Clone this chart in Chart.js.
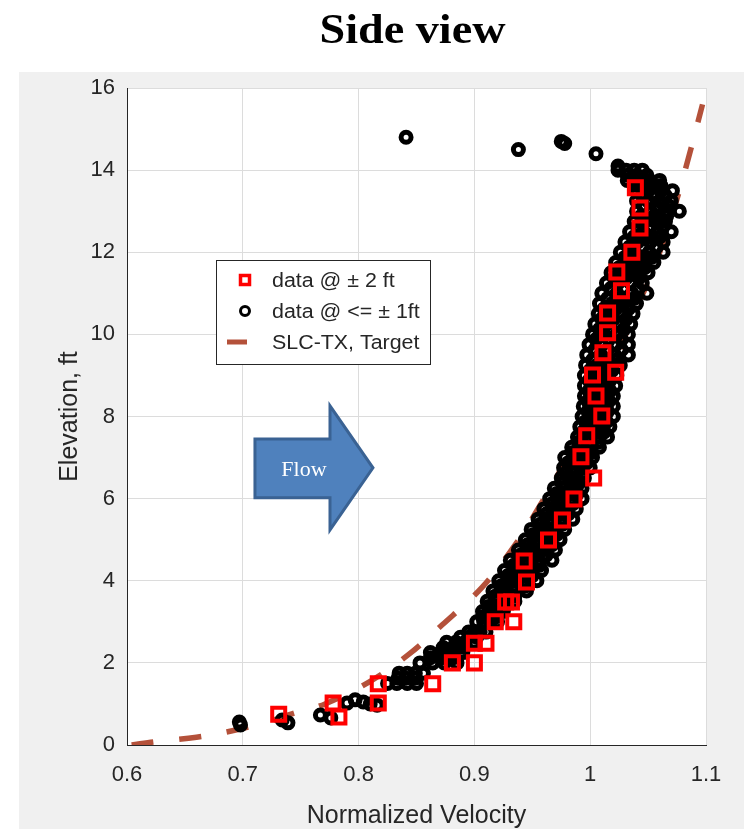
<!DOCTYPE html>
<html>
<head>
<meta charset="utf-8">
<script src="https://cdn.jsdelivr.net/npm/chart.js@4.4.1/dist/chart.umd.min.js"></script>
<style>
    html, body { margin: 0; padding: 0; background: #fff; }
    #wrap { position: relative; width: 744px; height: 829px; }
</style>
</head>
<body>
<div id="wrap"><canvas id="chart-side"></canvas></div>
<script>
// Side view — normalized velocity profile vs elevation

const xTicks = [0.6, 0.7, 0.8, 0.9, 1.0, 1.1];
const xTickLabels = ['0.6', '0.7', '0.8', '0.9', '1', '1.1'];
const yTicks = [0, 2, 4, 6, 8, 10, 12, 14, 16];

// data @ ± 2 ft  (x = normalized velocity, y = elevation ft)
const squarePts = [
    [1.039, 13.57], [1.043, 13.08], [1.043, 12.59], [1.036, 12.0], [1.023, 11.52],
    [1.027, 11.06], [1.015, 10.52], [1.015, 10.04], [1.011, 9.55], [1.002, 9.01],
    [1.022, 9.08], [1.005, 8.5], [1.010, 8.01], [0.997, 7.53], [0.992, 7.02],
    [1.003, 6.5], [0.986, 5.99], [0.976, 5.48], [0.964, 4.99], [0.943, 4.48],
    [0.945, 3.97], [0.927, 3.48], [0.932, 3.48], [0.918, 3.0], [0.934, 3.0],
    [0.900, 2.48], [0.910, 2.48], [0.881, 2.0], [0.900, 2.0], [0.864, 1.49],
    [0.817, 1.49], [0.817, 1.02], [0.778, 1.02], [0.783, 0.68], [0.731, 0.75]
];

// data @ <= ± 1 ft
const circlePts = [
    [0.841, 14.8], [0.938, 14.5], [0.975, 14.7], [0.978, 14.65], [1.005, 14.4], [1.024, 14.1],
    [1.024, 14.0], [1.031, 14.0], [1.038, 14.0], [1.045, 14.0],
    [1.032, 13.875], [1.040, 13.875], [1.049, 13.875],
    [1.032, 13.75], [1.041, 13.75], [1.051, 13.75], [1.060, 13.75],
    [1.041, 13.625], [1.051, 13.625], [1.061, 13.625],
    [1.040, 13.5], [1.050, 13.5], [1.061, 13.5], [1.071, 13.5],
    [1.045, 13.375], [1.055, 13.375], [1.065, 13.375],
    [1.040, 13.25], [1.050, 13.25], [1.060, 13.25], [1.070, 13.25],
    [1.046, 13.125], [1.057, 13.125], [1.068, 13.125],
    [1.040, 13.0], [1.052, 13.0], [1.065, 13.0], [1.077, 13.0],
    [1.044, 12.875], [1.055, 12.875], [1.066, 12.875],
    [1.038, 12.75], [1.047, 12.75], [1.056, 12.75], [1.065, 12.75],
    [1.041, 12.625], [1.052, 12.625], [1.063, 12.625],
    [1.034, 12.5], [1.046, 12.5], [1.058, 12.5], [1.070, 12.5],
    [1.038, 12.375], [1.049, 12.375], [1.060, 12.375],
    [1.030, 12.25], [1.041, 12.25], [1.052, 12.25], [1.063, 12.25],
    [1.034, 12.125], [1.045, 12.125], [1.057, 12.125],
    [1.026, 12.0], [1.038, 12.0], [1.051, 12.0], [1.063, 12.0],
    [1.030, 11.875], [1.041, 11.875], [1.053, 11.875],
    [1.022, 11.75], [1.033, 11.75], [1.044, 11.75], [1.055, 11.75],
    [1.025, 11.625], [1.036, 11.625], [1.047, 11.625],
    [1.018, 11.5], [1.029, 11.5], [1.039, 11.5], [1.050, 11.5],
    [1.021, 11.375], [1.031, 11.375], [1.042, 11.375],
    [1.014, 11.25], [1.024, 11.25], [1.035, 11.25], [1.045, 11.25],
    [1.018, 11.125], [1.029, 11.125], [1.041, 11.125],
    [1.010, 11.0], [1.023, 11.0], [1.036, 11.0], [1.049, 11.0],
    [1.015, 10.875], [1.026, 10.875], [1.038, 10.875],
    [1.008, 10.75], [1.019, 10.75], [1.029, 10.75], [1.040, 10.75],
    [1.012, 10.625], [1.022, 10.625], [1.033, 10.625],
    [1.007, 10.5], [1.017, 10.5], [1.027, 10.5], [1.037, 10.5],
    [1.010, 10.375], [1.020, 10.375], [1.031, 10.375],
    [1.004, 10.25], [1.014, 10.25], [1.025, 10.25], [1.035, 10.25],
    [1.008, 10.125], [1.018, 10.125], [1.029, 10.125],
    [1.002, 10.0], [1.012, 10.0], [1.023, 10.0], [1.033, 10.0],
    [1.005, 9.875], [1.016, 9.875], [1.027, 9.875],
    [0.999, 9.75], [1.010, 9.75], [1.022, 9.75], [1.033, 9.75],
    [1.004, 9.625], [1.015, 9.625], [1.027, 9.625],
    [0.997, 9.5], [1.009, 9.5], [1.021, 9.5], [1.033, 9.5],
    [1.002, 9.375], [1.012, 9.375], [1.023, 9.375],
    [0.996, 9.25], [1.006, 9.25], [1.016, 9.25], [1.026, 9.25],
    [1.000, 9.125], [1.009, 9.125], [1.019, 9.125],
    [0.995, 9.0], [1.004, 9.0], [1.014, 9.0], [1.023, 9.0],
    [0.999, 8.875], [1.008, 8.875], [1.017, 8.875],
    [0.995, 8.75], [1.004, 8.75], [1.013, 8.75], [1.022, 8.75],
    [0.999, 8.625], [1.008, 8.625], [1.017, 8.625],
    [0.995, 8.5], [1.003, 8.5], [1.012, 8.5], [1.020, 8.5],
    [0.998, 8.375], [1.007, 8.375], [1.016, 8.375],
    [0.994, 8.25], [1.003, 8.25], [1.011, 8.25], [1.020, 8.25],
    [0.998, 8.125], [1.006, 8.125], [1.015, 8.125],
    [0.993, 8.0], [1.002, 8.0], [1.011, 8.0], [1.020, 8.0],
    [0.996, 7.875], [1.005, 7.875], [1.014, 7.875],
    [0.991, 7.75], [1.000, 7.75], [1.008, 7.75], [1.017, 7.75],
    [0.994, 7.625], [1.003, 7.625], [1.012, 7.625],
    [0.989, 7.5], [0.998, 7.5], [1.006, 7.5], [1.015, 7.5],
    [0.990, 7.375], [0.999, 7.375], [1.007, 7.375],
    [0.984, 7.25], [0.992, 7.25], [1.000, 7.25], [1.008, 7.25],
    [0.985, 7.125], [0.993, 7.125], [1.001, 7.125],
    [0.978, 7.0], [0.986, 7.0], [0.994, 7.0], [1.002, 7.0],
    [0.981, 6.875], [0.989, 6.875], [0.997, 6.875],
    [0.977, 6.75], [0.985, 6.75], [0.992, 6.75], [1.000, 6.75],
    [0.979, 6.625], [0.986, 6.625], [0.994, 6.625],
    [0.975, 6.5], [0.982, 6.5], [0.988, 6.5], [0.995, 6.5],
    [0.976, 6.375], [0.983, 6.375], [0.990, 6.375],
    [0.969, 6.25], [0.977, 6.25], [0.985, 6.25], [0.993, 6.25],
    [0.971, 6.125], [0.980, 6.125], [0.989, 6.125],
    [0.965, 6.0], [0.974, 6.0], [0.984, 6.0], [0.993, 6.0],
    [0.967, 5.875], [0.976, 5.875], [0.985, 5.875],
    [0.960, 5.75], [0.969, 5.75], [0.979, 5.75], [0.988, 5.75],
    [0.962, 5.625], [0.972, 5.625], [0.981, 5.625],
    [0.955, 5.5], [0.965, 5.5], [0.975, 5.5], [0.985, 5.5],
    [0.957, 5.375], [0.966, 5.375], [0.976, 5.375],
    [0.949, 5.25], [0.959, 5.25], [0.968, 5.25], [0.978, 5.25],
    [0.951, 5.125], [0.961, 5.125], [0.971, 5.125],
    [0.944, 5.0], [0.954, 5.0], [0.964, 5.0], [0.974, 5.0],
    [0.946, 4.875], [0.956, 4.875], [0.967, 4.875],
    [0.938, 4.75], [0.949, 4.75], [0.959, 4.75], [0.970, 4.75],
    [0.940, 4.625], [0.951, 4.625], [0.962, 4.625],
    [0.931, 4.5], [0.943, 4.5], [0.955, 4.5], [0.967, 4.5],
    [0.934, 4.375], [0.945, 4.375], [0.956, 4.375],
    [0.926, 4.25], [0.937, 4.25], [0.947, 4.25], [0.958, 4.25],
    [0.929, 4.125], [0.939, 4.125], [0.950, 4.125],
    [0.921, 4.0], [0.932, 4.0], [0.943, 4.0], [0.954, 4.0],
    [0.923, 3.875], [0.934, 3.875], [0.944, 3.875],
    [0.916, 3.75], [0.926, 3.75], [0.935, 3.75], [0.945, 3.75],
    [0.918, 3.625], [0.926, 3.625], [0.935, 3.625],
    [0.911, 3.5], [0.919, 3.5], [0.927, 3.5], [0.935, 3.5],
    [0.912, 3.375], [0.919, 3.375], [0.926, 3.375],
    [0.907, 3.25], [0.913, 3.25], [0.919, 3.25], [0.925, 3.25],
    [0.907, 3.125], [0.913, 3.125], [0.919, 3.125],
    [0.902, 3.0], [0.908, 3.0], [0.914, 3.0], [0.920, 3.0],
    [0.895, 2.75], [0.900, 2.75], [0.905, 2.75], [0.910, 2.75],
    [0.888, 2.625], [0.895, 2.625], [0.902, 2.625],
    [0.876, 2.5], [0.884, 2.5], [0.892, 2.5], [0.900, 2.5],
    [0.873, 2.375], [0.882, 2.375], [0.891, 2.375],
    [0.862, 2.25], [0.871, 2.25], [0.881, 2.25], [0.890, 2.25],
    [0.862, 2.125], [0.872, 2.125], [0.882, 2.125],
    [0.853, 2.0], [0.864, 2.0], [0.874, 2.0], [0.885, 2.0],
    [0.835, 1.75], [0.842, 1.75], [0.849, 1.75], [0.856, 1.75],
    [0.834, 1.625], [0.841, 1.625], [0.849, 1.625],
    [0.825, 1.5], [0.833, 1.5], [0.842, 1.5], [0.850, 1.5],
    [0.790, 1.02], [0.797, 1.1], [0.804, 1.05], [0.810, 1.0], [0.816, 0.97],
    [0.767, 0.73], [0.776, 0.66],
    [0.734, 0.61], [0.739, 0.54], [0.698, 0.49], [0.697, 0.56]
];

// SLC-TX, Target curve
const targetPts = [
    [0.604, 0], [0.625, 0.08], [0.660, 0.19], [0.690, 0.34], [0.720, 0.55],
    [0.745, 0.78], [0.771, 1.0], [0.810, 1.55], [0.843, 2.2], [0.872, 2.92],
    [0.907, 3.85], [0.935, 4.87], [0.957, 5.85], [0.979, 6.94], [1.000, 8.1],
    [1.021, 9.25], [1.036, 10.4], [1.052, 11.4], [1.068, 12.66], [1.082, 14.0],
    [1.097, 15.6]
];

const legendLabels = ['data @ \u00b1 2 ft', 'data @ <= \u00b1 1ft', 'SLC-TX, Target'];

const RED = '#ff0000';
const BLACK = '#000000';
const BROWN = '#b4513a';
const AXIS = '#262626';
const GRID = '#dcdcdc';
const SANS = '"Liberation Sans", Arial, sans-serif';

const toXY = arr => arr.map(p => ({ x: p[0], y: p[1] }));

// gray figure panel, white axes box, title
const paperPlugin = {
    id: 'paper',
    beforeDraw(chart) {
        const { ctx, chartArea: a } = chart;
        ctx.save();
        ctx.fillStyle = '#ffffff';
        ctx.fillRect(0, 0, chart.width, chart.height);
        ctx.fillStyle = '#f0f0f0';
        ctx.fillRect(19, 72, chart.width - 19, chart.height - 72);
        ctx.fillStyle = '#ffffff';
        ctx.fillRect(a.left, a.top, a.right - a.left, a.bottom - a.top);
        ctx.fillStyle = '#000';
        ctx.font = 'bold 42px "Liberation Serif", serif';
        ctx.textAlign = 'center';
        ctx.textBaseline = 'alphabetic';
        ctx.translate((a.left + a.right) / 2 - 4, 43);
        ctx.scale(1.1, 1);
        ctx.fillText('Side view', 0, 0);
        ctx.restore();
    }
};

// "Flow" block arrow, placed in data units
const flowPlugin = {
    id: 'flow',
    afterDatasetsDraw(chart) {
        const { ctx, scales: { x, y } } = chart;
        const px = v => x.getPixelForValue(v);
        const py = v => y.getPixelForValue(v);
        const x0 = px(0.7105), x1 = px(0.7753), x2 = px(0.8124);
        const yTop = py(8.26), yBodyTop = py(7.45), yMid = py(6.75), yBodyBot = py(6.02), yBot = py(5.24);
        ctx.save();
        ctx.beginPath();
        ctx.moveTo(x0, yBodyTop);
        ctx.lineTo(x1, yBodyTop);
        ctx.lineTo(x1, yTop);
        ctx.lineTo(x2, yMid);
        ctx.lineTo(x1, yBot);
        ctx.lineTo(x1, yBodyBot);
        ctx.lineTo(x0, yBodyBot);
        ctx.closePath();
        ctx.fillStyle = '#4f81bd';
        ctx.fill();
        ctx.lineWidth = 3;
        ctx.lineJoin = 'miter';
        ctx.strokeStyle = '#3a6293';
        ctx.stroke();
        ctx.fillStyle = '#ffffff';
        ctx.font = '22px "Liberation Serif", serif';
        ctx.textAlign = 'center';
        ctx.textBaseline = 'middle';
        ctx.fillText('Flow', x0 + 49, yMid + 2);
        ctx.restore();
    }
};

// boxed legend inside the axes
const boxLegendPlugin = {
    id: 'boxLegend',
    afterDraw(chart) {
        const { ctx, chartArea: a } = chart;
        const bx = a.left + 89, by = a.top + 172, bw = 214, bh = 104;
        ctx.save();
        ctx.fillStyle = '#ffffff';
        ctx.fillRect(bx, by, bw, bh);
        ctx.strokeStyle = AXIS;
        ctx.lineWidth = 1;
        ctx.strokeRect(bx + 0.5, by + 0.5, bw, bh);

        const ix = bx + 29;
        const rows = [by + 20, by + 51, by + 82];

        ctx.strokeStyle = RED;
        ctx.lineWidth = 3.5;
        ctx.strokeRect(ix - 4.5, rows[0] - 4.5, 9, 9);

        ctx.strokeStyle = BLACK;
        ctx.lineWidth = 3;
        ctx.beginPath();
        ctx.arc(ix, rows[1], 4.5, 0, Math.PI * 2);
        ctx.stroke();

        ctx.strokeStyle = BROWN;
        ctx.lineWidth = 5;
        ctx.beginPath();
        ctx.moveTo(ix - 18, rows[2]);
        ctx.lineTo(ix + 2, rows[2]);
        ctx.stroke();

        ctx.fillStyle = AXIS;
        ctx.font = '20px ' + SANS;
        ctx.textAlign = 'left';
        ctx.textBaseline = 'middle';
        legendLabels.forEach((t, i) => {
            ctx.save();
            ctx.translate(bx + 56, rows[i] + 1);
            ctx.scale(1.07, 1);
            ctx.fillText(t, 0, 0);
            ctx.restore();
        });
        ctx.restore();
    }
};

const ctx = document.getElementById('chart-side').getContext('2d');
new Chart(ctx, {
    type: 'scatter',
    data: {
        datasets: [
            {
                label: legendLabels[0],
                data: toXY(squarePts),
                pointStyle: 'rect',
                pointRadius: 9.2,
                borderColor: RED,
                backgroundColor: 'rgba(0,0,0,0)',
                borderWidth: 4,
                order: 0
            },
            {
                label: legendLabels[1],
                data: toXY(circlePts),
                pointStyle: 'circle',
                pointRadius: 5,
                borderColor: BLACK,
                backgroundColor: 'rgba(0,0,0,0)',
                borderWidth: 5,
                order: 1
            },
            {
                label: legendLabels[2],
                data: toXY(targetPts),
                showLine: true,
                pointRadius: 0,
                borderColor: BROWN,
                borderWidth: 5.5,
                borderDash: [22, 26],
                borderCapStyle: 'butt',
                tension: 0.35,
                fill: false,
                order: 2
            }
        ]
    },
    options: {
        responsive: true,
        maintainAspectRatio: false,
        devicePixelRatio: 1,
        animation: false,
        events: [],
        layout: { padding: { top: 88, right: 38, left: 0, bottom: 0 } },
        plugins: {
            legend: { display: false },
            tooltip: { enabled: false },
            title: { display: false }
        },
        scales: {
            x: {
                type: 'linear',
                min: 0.6,
                max: 1.1,
                afterBuildTicks: s => { s.ticks = xTicks.map(v => ({ value: v })); },
                afterFit: s => { s.height = 84; },
                ticks: {
                    color: AXIS,
                    font: { family: SANS, size: 22 },
                    padding: 17,
                    maxRotation: 0,
                    callback: (v, i) => xTickLabels[i]
                },
                grid: {
                    color: c => (c.tick && c.tick.value === xTicks[0]) ? 'rgba(0,0,0,0)' : GRID,
                    drawTicks: false
                },
                border: { display: true, color: AXIS, width: 1 },
                title: {
                    display: true,
                    text: 'Normalized Velocity',
                    color: AXIS,
                    font: { family: SANS, size: 25 },
                    padding: { top: 0, bottom: -2 }
                }
            },
            y: {
                type: 'linear',
                min: 0,
                max: 16,
                afterBuildTicks: s => { s.ticks = yTicks.map(v => ({ value: v })); },
                afterFit: s => { s.width = 127; },
                ticks: {
                    color: AXIS,
                    font: { family: SANS, size: 22 },
                    padding: 12
                },
                grid: {
                    color: c => (c.tick && c.tick.value === yTicks[0]) ? 'rgba(0,0,0,0)' : GRID,
                    drawTicks: false
                },
                border: { display: true, color: AXIS, width: 1 },
                title: {
                    display: true,
                    text: 'Elevation, ft',
                    color: AXIS,
                    font: { family: SANS, size: 25 },
                    padding: { top: 55, bottom: 0 }
                }
            }
        }
    },
    plugins: [paperPlugin, flowPlugin, boxLegendPlugin]
});
</script>
</body>
</html>
